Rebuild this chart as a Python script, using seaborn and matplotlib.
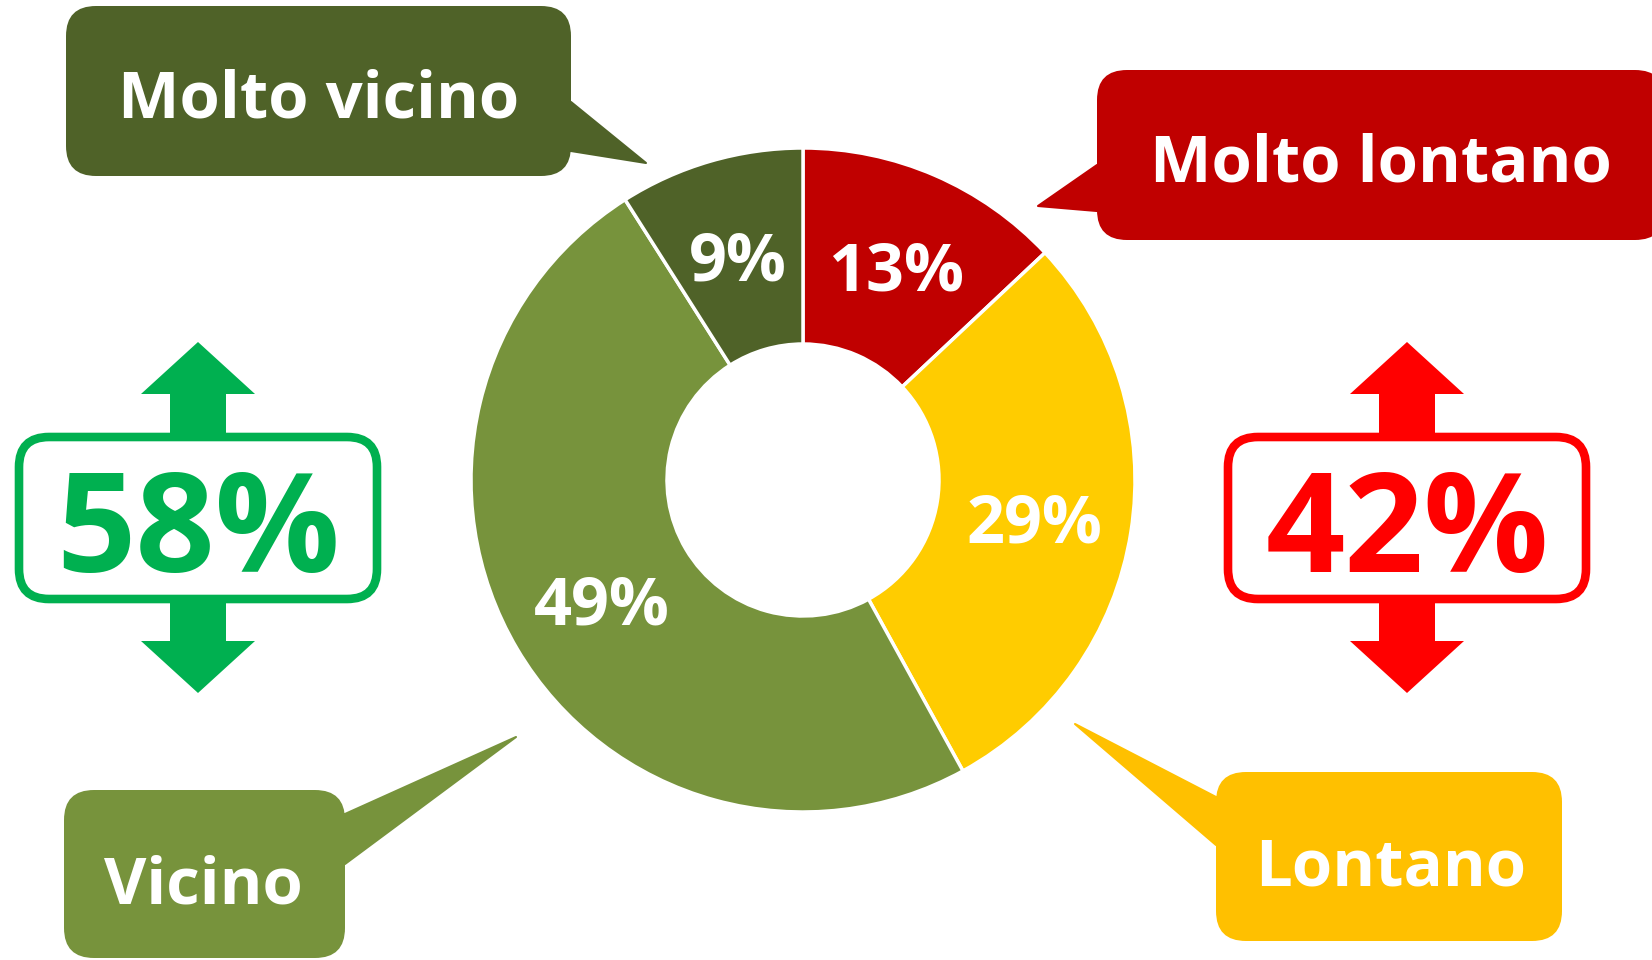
import matplotlib
matplotlib.use("Agg")
import matplotlib.pyplot as plt
import seaborn as sns
from matplotlib.patches import FancyBboxPatch, Polygon

# ---- data ----
categories = ["Molto lontano", "Lontano", "Vicino", "Molto vicino"]
values = [13, 29, 49, 9]
wedge_colors = ["#C00000", "#FFCC00", "#77933C", "#4F6228"]
callout_colors = ["#C00000", "#FFC000", "#77933C", "#4F6228"]
near_total = values[2] + values[3]   # Vicino + Molto vicino
far_total = values[0] + values[1]    # Molto lontano + Lontano

sns.set_theme(style="white")
FONT = ["Open Sans", "DejaVu Sans"]
plt.rcParams["font.family"] = FONT

W, H = 1652, 960
fig = plt.figure(figsize=(W / 100, H / 100), dpi=100)
fig.patch.set_facecolor("white")

# ---- donut ----
cx, cy, R, r_in = 803, 480, 332, 136
ax = fig.add_axes([(cx - R) / W, (H - cy - R) / H, 2 * R / W, 2 * R / H])
ax.set_aspect("equal")
wedges, texts, autotexts = ax.pie(
    values, colors=wedge_colors, startangle=90, counterclock=False, radius=1,
    autopct=lambda p: f"{p:.0f}%", pctdistance=(R + r_in) / 2 / R,
    wedgeprops=dict(width=(R - r_in) / R, edgecolor="white", linewidth=2.5),
    textprops=dict(color="white", fontsize=48, fontweight="bold"),
)
for t in autotexts:
    t.set_verticalalignment("center_baseline")
ax.set_xlim(-1, 1)
ax.set_ylim(-1, 1)
ax.axis("off")

# ---- overlay in pixel coords ----
ov = fig.add_axes([0, 0, 1, 1])
ov.set_xlim(0, W)
ov.set_ylim(H, 0)
ov.axis("off")
ov.patch.set_visible(False)


def callout(x0, y0, x1, y1, pointer, color, text, tx, ty, size=47):
    box = FancyBboxPatch((x0, y0), x1 - x0, y1 - y0,
                         boxstyle="round,pad=0,rounding_size=30",
                         fc=color, ec="none", zorder=2)
    ov.add_patch(box)
    ov.add_patch(Polygon(pointer, closed=True, fc=color, ec=color, lw=1.5,
                         joinstyle="round", zorder=2))
    ov.text(tx, ty, text, color="white", fontsize=size, fontweight="bold",
            ha="center", va="baseline", zorder=3)


# Molto vicino
callout(66, 6, 571, 176, [(560, 102), (571, 102), (646, 163), (571, 151), (560, 151)],
        callout_colors[3], categories[3], 319, 117)
# Molto lontano
callout(1097, 70, 1665, 240, [(1110, 165), (1097, 165), (1038, 206), (1097, 211), (1110, 211)],
        callout_colors[0], categories[0], 1381, 181)
# Vicino
callout(64, 790, 345, 958, [(330, 814), (345, 814), (516, 737), (345, 864), (330, 864)],
        callout_colors[2], categories[2], 203, 903)
# Lontano
callout(1216, 772, 1562, 941, [(1230, 797), (1216, 797), (1075, 724), (1216, 845), (1230, 845)],
        callout_colors[1], categories[1], 1391, 885)


def total_box(xc, color, text):
    # arrows
    up = [(xc, 342), (xc + 57, 394), (xc + 28, 394), (xc + 28, 440),
          (xc - 28, 440), (xc - 28, 394), (xc - 57, 394)]
    dn = [(xc, 693), (xc + 57, 641), (xc + 28, 641), (xc + 28, 596),
          (xc - 28, 596), (xc - 28, 641), (xc - 57, 641)]
    ov.add_patch(Polygon(up, closed=True, fc=color, ec="none", zorder=2))
    ov.add_patch(Polygon(dn, closed=True, fc=color, ec="none", zorder=2))
    box = FancyBboxPatch((xc - 179, 437), 358, 162,
                         boxstyle="round,pad=0,rounding_size=30",
                         fc="white", ec=color, lw=6.2, zorder=3)
    ov.add_patch(box)
    ov.text(xc, 572, text, color=color, fontsize=100, fontweight="bold",
            ha="center", va="baseline", zorder=4)


total_box(198, "#00B050", f"{near_total}%")
total_box(1407, "#FF0000", f"{far_total}%")

fig.savefig("out.png", dpi=100, facecolor="white")
